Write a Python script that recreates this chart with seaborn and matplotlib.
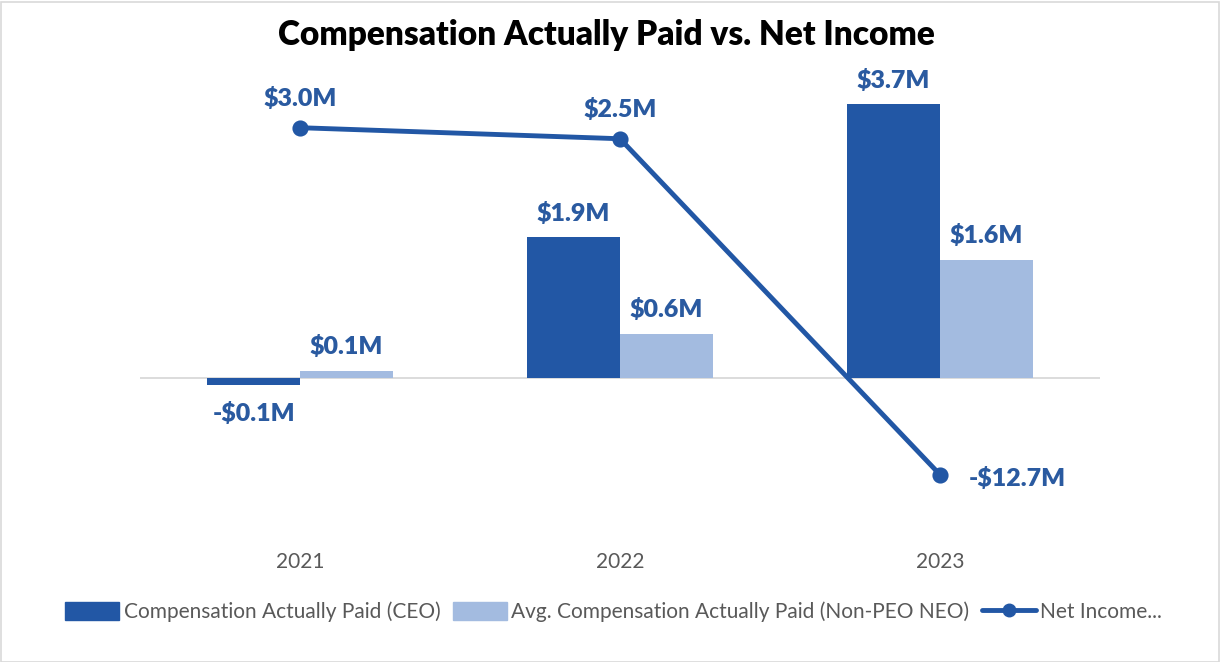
import matplotlib
matplotlib.use("Agg")
import matplotlib.pyplot as plt
import seaborn as sns
import pandas as pd
import numpy as np
from matplotlib.patches import Patch, Rectangle
from matplotlib.lines import Line2D

years = ["2021", "2022", "2023"]
ceo_cap = [-0.1, 1.9, 3.7]
neo_cap = [0.1, 0.6, 1.6]
net_income = [3.0, 2.5, -12.7]
series_names = ["Compensation Actually Paid (CEO)", "Avg. Compensation Actually Paid (Non-PEO NEO)"]
line_name = "Net Income..."
title = "Compensation Actually Paid vs. Net Income"

dark = "#2257A5"
light = "#A3BBE0"
label_c = "#2A5AA0"
gray = "#595959"

sns.set_theme(style="white")
plt.rcParams["font.family"] = ["Lato", "DejaVu Sans"]

df = pd.DataFrame({
    "year": years * 2,
    "value": ceo_cap + neo_cap,
    "series": [series_names[0]] * 3 + [series_names[1]] * 3,
})

W, H = 1220, 662
fig = plt.figure(figsize=(W / 100, H / 100), dpi=100)
fig.patch.set_facecolor("white")
fig.add_artist(Rectangle((0.5 / W, 0.5 / H), 1 - 2 / W, 1 - 2 / H, transform=fig.transFigure,
                         fill=False, edgecolor="#D9D9D9", linewidth=1.2))

left, right, top, bottom = 140, 1100, 70, 530
ax = fig.add_axes([left / W, 1 - bottom / H, (right - left) / W, (bottom - top) / H])
sns.barplot(data=df, x="year", y="value", hue="series", order=years,
            hue_order=series_names, palette=[dark, light], width=0.58,
            ax=ax, legend=False, saturation=1, linewidth=0)
zero_px = 378
scale = 74.0
ax.set_ylim(-(bottom - zero_px) / scale, (zero_px - top) / scale)
ax.set_xlim(-0.5, 2.5)
ax.axhline(0, color="#D9D9D9", linewidth=1.3, zorder=0)
for s in ax.spines.values():
    s.set_visible(False)
ax.set_yticks([])
ax.set_xlabel("")
ax.set_ylabel("")
ax.tick_params(axis="x", length=0, pad=16, labelsize=15, labelcolor=gray)

# bar labels
for cont in ax.containers:
    for bar in cont:
        v = bar.get_height()
        xc = bar.get_x() + bar.get_width() / 2
        txt = ("-$%.1fM" % abs(v)) if v < 0 else ("$%.1fM" % v)
        if v < 0:
            ax.annotate(txt, (xc, v), xytext=(0, -12), textcoords="offset points",
                        ha="center", va="top", fontsize=18, fontweight="heavy", color=label_c)
        else:
            ax.annotate(txt, (xc, v), xytext=(0, 9), textcoords="offset points",
                        ha="center", va="bottom", fontsize=18, fontweight="heavy", color=label_c)

ax2 = ax.twinx()
sns.pointplot(x=years, y=net_income, ax=ax2, color=dark, markers="o",
              linestyles="-", markersize=9, linewidth=3.5, errorbar=None)
lzero = 194
lscale = 22.1
ax2.set_ylim(-(bottom - lzero) / lscale, (lzero - top) / lscale)
ax2.set_xlim(-0.5, 2.5)
ax2.set_yticks([])
ax2.set_ylabel("")
for s in ax2.spines.values():
    s.set_visible(False)
for i, v in enumerate(net_income):
    txt = ("-$%.1fM" % abs(v)) if v < 0 else ("$%.1fM" % v)
    if v < 0:
        ax2.annotate(txt, (i, v), xytext=(21, -3), textcoords="offset points",
                     ha="left", va="center", fontsize=18, fontweight="heavy", color=label_c)
    else:
        ax2.annotate(txt, (i, v), xytext=(0, 13), textcoords="offset points",
                     ha="center", va="bottom", fontsize=18, fontweight="heavy", color=label_c)

fig.text(0.5 * (280 + 932) / W, 1 - 35 / H, title, ha="center", va="center",
         fontsize=24, fontweight="heavy", color="black")

handles = [Patch(facecolor=dark, edgecolor=dark), Patch(facecolor=light, edgecolor=light),
           Line2D([0], [0], color=dark, linewidth=3.5, marker="o", markersize=9)]
fig.legend(handles, series_names + [line_name], loc="center", bbox_to_anchor=(0.503, 1 - 612 / H),
           ncol=3, frameon=False, fontsize=15, labelcolor=gray, handlelength=2.6,
           handleheight=1.0, handletextpad=0.2, columnspacing=0.6)

fig.savefig("out.png", dpi=100, facecolor="white")
